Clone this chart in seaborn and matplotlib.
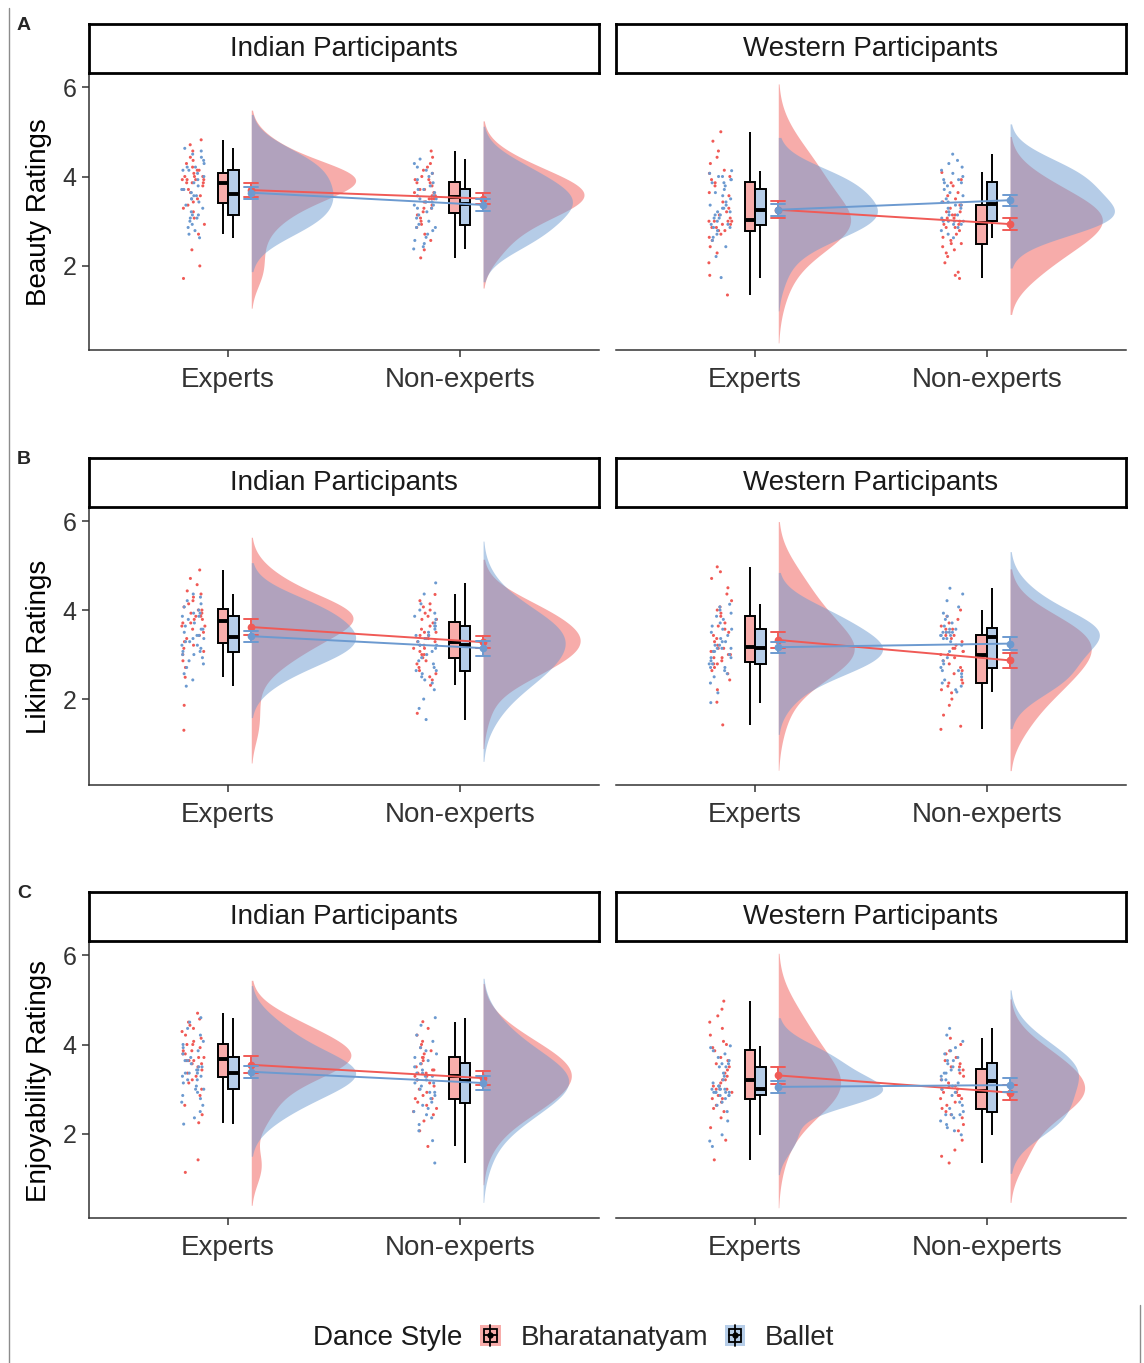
import numpy as np
import pandas as pd
import matplotlib.pyplot as plt
import seaborn as sns
from matplotlib.lines import Line2D
from matplotlib.patches import Patch, Rectangle
from matplotlib.legend_handler import HandlerBase

# categories
MEASURES = ["Beauty Ratings", "Liking Ratings", "Enjoyability Ratings"]
PANEL_LETTERS = ["A", "B", "C"]
PARTICIPANTS = ["Indian Participants", "Western Participants"]
EXPERTISE = ["Experts", "Non-experts"]
STYLES = ["Bharatanatyam", "Ballet"]

beauty_ind_exp_bh = [1.72, 2.00, 2.36, 2.71, 2.93, 3.07, 3.21, 3.29, 3.36, 3.43, 3.50, 3.57, 3.64, 3.71, 3.71, 3.79, 3.86, 3.86,
                     3.86, 3.93, 3.93, 3.93, 3.93, 4.00, 4.00, 4.00, 4.07, 4.14, 4.14, 4.21, 4.29, 4.36, 4.43, 4.57, 4.71, 4.82]
beauty_ind_exp_ba = [2.63, 2.71, 2.79, 2.86, 2.93, 3.00, 3.07, 3.07, 3.14, 3.14, 3.21, 3.29, 3.36, 3.43, 3.50, 3.50, 3.57, 3.57,
                     3.64, 3.71, 3.71, 3.79, 3.86, 3.93, 4.00, 4.07, 4.14, 4.14, 4.21, 4.21, 4.29, 4.36, 4.43, 4.50, 4.57, 4.63]
beauty_ind_non_bh = [2.18, 2.36, 2.57, 2.71, 2.86, 2.93, 3.00, 3.07, 3.14, 3.21, 3.29, 3.29, 3.36, 3.43, 3.43, 3.50, 3.50, 3.50,
                     3.57, 3.57, 3.64, 3.64, 3.71, 3.71, 3.79, 3.86, 3.86, 3.93, 3.93, 4.00, 4.07, 4.14, 4.21, 4.29, 4.43, 4.57]
beauty_ind_non_ba = [2.38, 2.43, 2.50, 2.57, 2.64, 2.71, 2.79, 2.86, 2.86, 2.93, 3.00, 3.07, 3.14, 3.21, 3.29, 3.29, 3.36, 3.36,
                     3.43, 3.43, 3.50, 3.50, 3.57, 3.57, 3.64, 3.71, 3.71, 3.79, 3.86, 3.93, 4.00, 4.07, 4.14, 4.21, 4.29, 4.39]
beauty_wes_exp_bh = [1.35, 1.79, 2.07, 2.29, 2.43, 2.57, 2.64, 2.71, 2.79, 2.79, 2.86, 2.86, 2.93, 2.93, 3.00, 3.00, 3.00, 3.00,
                     3.07, 3.14, 3.21, 3.29, 3.43, 3.57, 3.64, 3.79, 3.86, 3.93, 4.00, 4.07, 4.14, 4.29, 4.43, 4.57, 4.79, 5.00]
beauty_wes_exp_ba = [1.74, 2.21, 2.43, 2.57, 2.64, 2.71, 2.79, 2.86, 2.86, 2.93, 2.93, 3.00, 3.07, 3.07, 3.14, 3.14, 3.21, 3.21,
                     3.29, 3.29, 3.36, 3.36, 3.43, 3.50, 3.57, 3.64, 3.71, 3.79, 3.86, 3.86, 3.93, 3.93, 4.00, 4.00, 4.07, 4.13]
beauty_wes_non_bh = [1.72, 1.79, 1.86, 2.07, 2.21, 2.29, 2.36, 2.43, 2.50, 2.50, 2.57, 2.64, 2.71, 2.79, 2.86, 2.86, 2.93, 2.93,
                     3.00, 3.07, 3.07, 3.14, 3.14, 3.21, 3.21, 3.29, 3.36, 3.36, 3.43, 3.50, 3.57, 3.64, 3.79, 3.86, 3.93, 4.09]
beauty_wes_non_ba = [2.63, 2.71, 2.79, 2.86, 2.93, 2.93, 3.00, 3.00, 3.00, 3.00, 3.07, 3.14, 3.14, 3.21, 3.29, 3.29, 3.36, 3.36,
                     3.43, 3.43, 3.50, 3.57, 3.64, 3.71, 3.79, 3.86, 3.86, 3.93, 3.93, 4.00, 4.07, 4.14, 4.21, 4.29, 4.36, 4.50]

liking_ind_exp_bh = [1.30, 1.86, 2.49, 2.71, 2.86, 3.00, 3.07, 3.14, 3.21, 3.29, 3.36, 3.43, 3.50, 3.57, 3.64, 3.64, 3.71, 3.71,
                     3.79, 3.79, 3.86, 3.86, 3.93, 3.93, 3.93, 4.00, 4.00, 4.07, 4.14, 4.21, 4.29, 4.36, 4.43, 4.57, 4.71, 4.90]
liking_ind_exp_ba = [2.29, 2.43, 2.57, 2.71, 2.79, 2.86, 2.93, 3.00, 3.00, 3.07, 3.07, 3.14, 3.21, 3.21, 3.29, 3.29, 3.36, 3.36,
                     3.43, 3.43, 3.50, 3.57, 3.57, 3.64, 3.71, 3.79, 3.86, 3.86, 3.93, 3.93, 4.00, 4.07, 4.14, 4.21, 4.29, 4.36]
liking_ind_non_bh = [1.68, 2.31, 2.43, 2.50, 2.57, 2.64, 2.71, 2.79, 2.86, 2.93, 3.00, 3.00, 3.07, 3.14, 3.14, 3.21, 3.21, 3.29,
                     3.29, 3.36, 3.43, 3.43, 3.50, 3.50, 3.57, 3.64, 3.71, 3.79, 3.79, 3.86, 3.93, 4.00, 4.07, 4.14, 4.21, 4.35]
liking_ind_non_ba = [1.54, 1.79, 2.00, 2.21, 2.36, 2.43, 2.50, 2.57, 2.64, 2.64, 2.71, 2.79, 2.86, 2.93, 3.00, 3.07, 3.14, 3.21,
                     3.21, 3.29, 3.36, 3.36, 3.43, 3.43, 3.50, 3.57, 3.64, 3.64, 3.71, 3.79, 3.86, 3.93, 4.00, 4.14, 4.36, 4.61]
liking_wes_exp_bh = [1.42, 1.93, 2.21, 2.43, 2.57, 2.64, 2.71, 2.79, 2.79, 2.86, 2.93, 2.93, 3.00, 3.00, 3.07, 3.07, 3.14, 3.14,
                     3.21, 3.29, 3.36, 3.43, 3.50, 3.57, 3.64, 3.71, 3.86, 3.93, 4.00, 4.07, 4.21, 4.36, 4.50, 4.71, 4.86, 4.97]
liking_wes_exp_ba = [1.92, 2.14, 2.36, 2.50, 2.57, 2.64, 2.71, 2.71, 2.79, 2.79, 2.86, 2.93, 2.93, 3.00, 3.07, 3.07, 3.14, 3.14,
                     3.14, 3.21, 3.21, 3.29, 3.29, 3.36, 3.43, 3.50, 3.57, 3.57, 3.64, 3.71, 3.79, 3.86, 3.93, 4.00, 4.07, 4.13]
liking_wes_non_bh = [1.32, 1.39, 1.64, 1.86, 2.00, 2.14, 2.21, 2.29, 2.36, 2.36, 2.43, 2.57, 2.64, 2.71, 2.79, 2.86, 2.93, 3.00,
                     3.00, 3.07, 3.07, 3.14, 3.14, 3.21, 3.29, 3.36, 3.43, 3.43, 3.50, 3.57, 3.57, 3.64, 3.71, 3.79, 3.86, 4.00]
liking_wes_non_ba = [2.16, 2.21, 2.29, 2.36, 2.43, 2.50, 2.57, 2.64, 2.64, 2.71, 2.79, 2.86, 2.93, 3.07, 3.21, 3.29, 3.36, 3.36,
                     3.43, 3.43, 3.43, 3.50, 3.50, 3.50, 3.50, 3.57, 3.57, 3.64, 3.71, 3.79, 3.86, 3.93, 4.07, 4.21, 4.36, 4.49]

enjoy_ind_exp_bh = [1.14, 1.42, 2.25, 2.43, 2.64, 2.86, 3.00, 3.14, 3.21, 3.29, 3.36, 3.43, 3.50, 3.57, 3.57, 3.64, 3.64, 3.64,
                    3.71, 3.71, 3.79, 3.79, 3.86, 3.86, 3.93, 4.00, 4.00, 4.07, 4.14, 4.21, 4.29, 4.36, 4.43, 4.50, 4.57, 4.70]
enjoy_ind_exp_ba = [2.22, 2.36, 2.50, 2.64, 2.71, 2.79, 2.86, 2.93, 3.00, 3.00, 3.07, 3.14, 3.21, 3.21, 3.29, 3.29, 3.36, 3.36,
                    3.36, 3.43, 3.43, 3.50, 3.50, 3.57, 3.64, 3.64, 3.71, 3.79, 3.86, 3.93, 4.00, 4.07, 4.21, 4.36, 4.50, 4.60]
enjoy_ind_non_bh = [1.72, 2.07, 2.29, 2.43, 2.50, 2.57, 2.64, 2.71, 2.79, 2.79, 2.86, 2.93, 3.00, 3.07, 3.14, 3.21, 3.21, 3.29,
                    3.29, 3.36, 3.36, 3.43, 3.43, 3.50, 3.57, 3.64, 3.71, 3.71, 3.79, 3.86, 3.93, 4.00, 4.07, 4.21, 4.36, 4.51]
enjoy_ind_non_ba = [1.35, 1.85, 2.07, 2.21, 2.36, 2.43, 2.50, 2.57, 2.64, 2.71, 2.79, 2.86, 2.93, 2.93, 3.00, 3.07, 3.14, 3.14,
                    3.21, 3.21, 3.29, 3.29, 3.36, 3.36, 3.43, 3.50, 3.57, 3.64, 3.71, 3.79, 3.86, 3.93, 4.07, 4.21, 4.43, 4.60]
enjoy_wes_exp_bh = [1.42, 1.86, 2.14, 2.36, 2.50, 2.57, 2.64, 2.71, 2.79, 2.79, 2.86, 2.93, 3.00, 3.00, 3.07, 3.07, 3.14, 3.21,
                    3.21, 3.29, 3.36, 3.43, 3.50, 3.57, 3.64, 3.71, 3.86, 3.93, 4.00, 4.07, 4.21, 4.36, 4.50, 4.64, 4.79, 4.97]
enjoy_wes_exp_ba = [1.72, 1.84, 1.98, 2.29, 2.50, 2.64, 2.71, 2.79, 2.86, 2.86, 2.86, 2.93, 2.93, 2.93, 2.93, 2.93, 3.00, 3.00,
                    3.00, 3.00, 3.07, 3.07, 3.14, 3.21, 3.29, 3.36, 3.50, 3.50, 3.57, 3.57, 3.64, 3.71, 3.79, 3.86, 3.93, 3.97]
enjoy_wes_non_bh = [1.35, 1.50, 1.64, 1.86, 2.07, 2.21, 2.36, 2.43, 2.50, 2.57, 2.64, 2.71, 2.79, 2.79, 2.86, 2.86, 2.93, 2.93,
                    3.00, 3.00, 3.07, 3.07, 3.14, 3.21, 3.29, 3.36, 3.43, 3.50, 3.50, 3.57, 3.64, 3.71, 3.79, 3.86, 4.00, 4.14]
enjoy_wes_non_ba = [1.98, 2.07, 2.14, 2.21, 2.29, 2.36, 2.43, 2.43, 2.43, 2.50, 2.57, 2.64, 2.71, 2.86, 2.93, 3.00, 3.07, 3.14,
                    3.21, 3.21, 3.29, 3.36, 3.36, 3.43, 3.43, 3.50, 3.57, 3.64, 3.64, 3.71, 3.79, 3.86, 3.93, 4.07, 4.21, 4.36]

RATINGS = {
    "Beauty Ratings": {
        "Indian Participants": [beauty_ind_exp_bh, beauty_ind_exp_ba, beauty_ind_non_bh, beauty_ind_non_ba],
        "Western Participants": [beauty_wes_exp_bh, beauty_wes_exp_ba, beauty_wes_non_bh, beauty_wes_non_ba],
    },
    "Liking Ratings": {
        "Indian Participants": [liking_ind_exp_bh, liking_ind_exp_ba, liking_ind_non_bh, liking_ind_non_ba],
        "Western Participants": [liking_wes_exp_bh, liking_wes_exp_ba, liking_wes_non_bh, liking_wes_non_ba],
    },
    "Enjoyability Ratings": {
        "Indian Participants": [enjoy_ind_exp_bh, enjoy_ind_exp_ba, enjoy_ind_non_bh, enjoy_ind_non_ba],
        "Western Participants": [enjoy_wes_exp_bh, enjoy_wes_exp_ba, enjoy_wes_non_bh, enjoy_wes_non_ba],
    },
}

# colours
COLORS = {"Bharatanatyam": "#F05A56", "Ballet": "#6C9AD0"}
BOX_FILL = {"Bharatanatyam": "#F8ADAB", "Ballet": "#B6CDE8"}


def build_frame():
    rows = []
    for measure, by_part in RATINGS.items():
        for part, groups in by_part.items():
            combos = [(e, s) for e in EXPERTISE for s in STYLES]
            for (exp, style), values in zip(combos, groups):
                for v in values:
                    rows.append((measure, part, exp, style, v))
    df = pd.DataFrame(rows, columns=["measure", "participants", "expertise", "style", "rating"])
    df["pos"] = df["expertise"].map({e: i + 1.0 for i, e in enumerate(EXPERTISE)})
    df["x_pts"] = df["pos"] - 0.15
    df["x_mean"] = df["pos"] + 0.10
    return df


def kde_curve(values, adjust=1.5, n_grid=512):
    """Gaussian KDE, bw.nrd0 * adjust, range extended by 3 unadjusted bw (as ggplot does)."""
    v = np.asarray(values, float)
    q75, q25 = np.percentile(v, [75, 25])
    bw = 0.9 * min(v.std(ddof=1), (q75 - q25) / 1.34) * len(v) ** -0.2
    grid = np.linspace(v.min() - 3 * bw, v.max() + 3 * bw, n_grid)
    h = bw * adjust
    dens = np.exp(-0.5 * ((grid[:, None] - v[None, :]) / h) ** 2).sum(axis=1)
    dens /= len(v) * h * np.sqrt(2 * np.pi)
    return grid, dens


def draw_panel(ax, d):
    # raw points
    sns.stripplot(data=d, x="x_pts", y="rating", hue="style", hue_order=STYLES, palette=COLORS,
                  native_scale=True, jitter=0.05, size=2.2, linewidth=0, legend=False, ax=ax, zorder=2)
    # boxplots
    sns.boxplot(data=d, x="pos", y="rating", hue="style", hue_order=STYLES, palette=BOX_FILL,
                native_scale=True, width=0.09, gap=0, saturation=1, showfliers=False, showcaps=False,
                linecolor="black", linewidth=1.4, medianprops={"linewidth": 2.8},
                legend=False, ax=ax)
    # half violins, area-scaled within the panel
    curves = []
    for exp in EXPERTISE:
        for style in STYLES:
            sub = d[(d["expertise"] == exp) & (d["style"] == style)]
            grid, dens = kde_curve(sub["rating"])
            curves.append((sub["x_mean"].iloc[0], style, grid, dens))
    dmax = max(c[3].max() for c in curves)
    for x0, style, grid, dens in curves:
        ax.fill_betweenx(grid, x0, x0 + 0.45 * dens / dmax, color=COLORS[style],
                         alpha=0.5, linewidth=0, zorder=3)
    # means with error bars, joined across expertise
    sns.pointplot(data=d, x="x_mean", y="rating", hue="style", hue_order=STYLES, palette=COLORS,
                  native_scale=True, errorbar=("se", 1.4), capsize=0.06, markers="o", markersize=4.5,
                  linewidth=1.4, err_kws={"linewidth": 1.4}, legend=False, ax=ax)
    for coll in ax.collections[-2:]:
        coll.set_zorder(5)
    for ln in ax.lines:
        if ln.get_color() in COLORS.values():
            ln.set_zorder(5)


class BoxKey(HandlerBase):
    """Legend key: filled square with a small boxplot glyph on top."""

    def create_artists(self, legend, orig_handle, xdescent, ydescent, width, height, fontsize, trans):
        x0, y0 = -xdescent, -ydescent
        bg = Rectangle((x0, y0), width, height, facecolor=orig_handle.get_facecolor(),
                       edgecolor="none", transform=trans)
        bw, bh = width * 0.62, height * 0.6
        bx, by = x0 + (width - bw) / 2, y0 + (height - bh) / 2
        box = Rectangle((bx, by), bw, bh, facecolor="none", edgecolor="black", lw=1.3, transform=trans)
        xc, yc = x0 + width / 2, y0 + height / 2
        vline = Line2D([xc, xc], [y0, y0 + height], color="black", lw=1.3, transform=trans)
        hline = Line2D([bx, bx + bw], [yc, yc], color="black", lw=1.3, transform=trans)
        dot = Line2D([xc], [yc], marker="o", ms=3.5, color="black", transform=trans)
        return [bg, box, vline, hline, dot]


sns.set_theme(style="ticks")
plt.rcParams["font.family"] = ["Liberation Sans", "DejaVu Sans"]

W, H = 1144, 1363
fig = plt.figure(figsize=(W / 100, H / 100), dpi=100)


def px_rect(x0, y0, x1, y1):
    return [x0 / W, 1 - y1 / H, (x1 - x0) / W, (y1 - y0) / H]


df = build_frame()
np.random.seed(7)

AX_TOP = [75, 509, 943]
AX_BOTTOM = [350, 785, 1218]
YLIMS = [(0.12, 6.27), (0.07, 6.27), (0.12, 6.27)]
FACET_X = [(89, 599), (616, 1126)]

for r, measure in enumerate(MEASURES):
    for c, part in enumerate(PARTICIPANTS):
        x0, x1 = FACET_X[c]
        ax = fig.add_axes(px_rect(x0, AX_TOP[r], x1, AX_BOTTOM[r]))
        d = df[(df["measure"] == measure) & (df["participants"] == part)]
        draw_panel(ax, d)

        ax.set_xlim(0.40, 2.60)
        ax.set_ylim(*YLIMS[r])
        ax.set_xticks([1, 2], EXPERTISE)
        ax.set_xlabel("")
        sns.despine(ax=ax)
        for sp in ax.spines.values():
            sp.set_color("#333333")
            sp.set_linewidth(1.1)
        ax.tick_params(axis="x", length=5, width=1.1, color="#333333", pad=7,
                       labelsize=20, labelcolor="#333333")
        if c == 0:
            ax.set_yticks([2, 4, 6])
            ax.tick_params(axis="y", length=5, width=1.1, color="#333333", pad=4,
                           labelsize=18, labelcolor="#333333")
            ax.set_ylabel(measure, fontsize=20, color="black")
            ax.yaxis.set_label_coords(-0.072, 0.5)
        else:
            ax.set_yticks([])
            ax.set_ylabel("")
            ax.spines["left"].set_visible(False)

        # facet strip
        sax = fig.add_axes(px_rect(x0, AX_TOP[r] - 51, x1, AX_TOP[r] - 2))
        sax.set_xticks([])
        sax.set_yticks([])
        for sp in sax.spines.values():
            sp.set_color("black")
            sp.set_linewidth(2.0)
        sax.text(0.5, 0.5, part, ha="center", va="center", fontsize=20, color="#1a1a1a",
                 transform=sax.transAxes)

    fig.text(17 / W, 1 - (AX_TOP[r] - 50) / H, PANEL_LETTERS[r], fontsize=14, fontweight="bold",
             ha="left", va="center")

# legend
fig.text(313 / W, 1 - 1338 / H, "Dance Style", fontsize=20, ha="left", va="center", color="#1a1a1a")
fig.legend([Patch(facecolor=BOX_FILL[s]) for s in STYLES], STYLES, handler_map={Patch: BoxKey()},
           ncol=2, loc="center left", bbox_to_anchor=(480 / W, 1 - 1338 / H), frameon=False,
           fontsize=20, handlelength=0.75, handleheight=0.8, handletextpad=0.7, columnspacing=0.6,
           borderpad=0, borderaxespad=0)

# page edge lines visible in the scan
fig.add_artist(Line2D([9 / W, 9 / W], [0, 1 - 8 / H], color="#8c8c8c", lw=1.0))
fig.add_artist(Line2D([1140 / W, 1140 / W], [0, 1 - 1305 / H], color="#8c8c8c", lw=1.0))

fig.savefig("out.png", dpi=100)
